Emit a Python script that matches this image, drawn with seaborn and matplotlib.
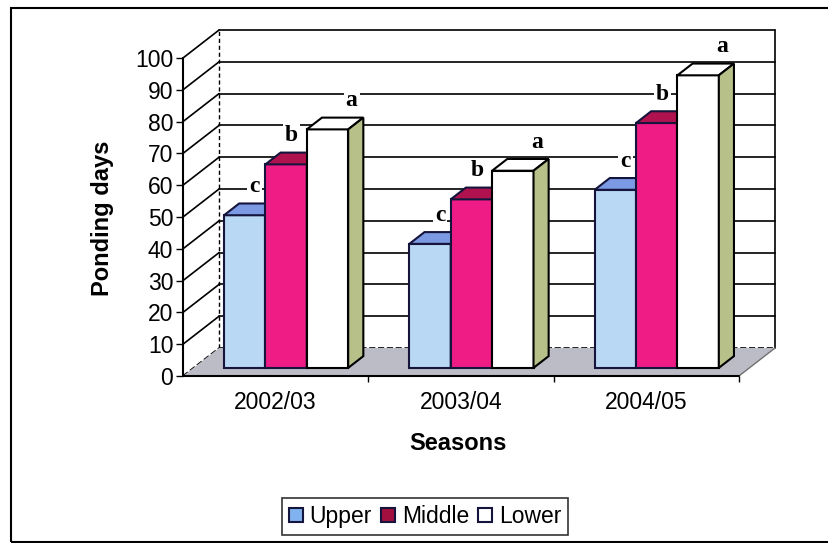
import matplotlib
matplotlib.use("Agg")
import matplotlib.pyplot as plt
from matplotlib.patches import Polygon, Rectangle, Patch
import pandas as pd
import seaborn as sns

# ---- data -------------------------------------------------------------
seasons = ["2002/03", "2003/04", "2004/05"]
zones = ["Upper", "Middle", "Lower"]
upper = [48, 39, 56]
middle = [64, 53, 77]
lower = [75, 62, 92]
letters_upper = ["c", "c", "c"]
letters_middle = ["b", "b", "b"]
letters_lower = ["a", "a", "a"]
y_ticks = list(range(0, 101, 10))

df = pd.DataFrame({
    "Season": seasons * 3,
    "Zone": [z for z in zones for _ in seasons],
    "Days": upper + middle + lower,
})
letters = {"Upper": letters_upper, "Middle": letters_middle, "Lower": letters_lower}

# ---- styling ----------------------------------------------------------
front = {"Upper": "#b9d8f4", "Middle": "#ee1c84", "Lower": "#ffffff"}
top_col = {"Upper": "#7c9ae4", "Middle": "#b0124f", "Lower": "#ffffff"}
side_col = {"Upper": "#6c8ad0", "Middle": "#a01048", "Lower": "#b8c08a"}
edge_col = {"Upper": "#14143c", "Middle": "#14143c", "Lower": "#000000"}
legend_col = {"Upper": "#7fb2ee", "Middle": "#a3103f", "Lower": "#ffffff"}
label_dx = {"Upper": 0.054, "Middle": 0.03, "Lower": 0.13}

sns.set_theme(style="white")
plt.rcParams["font.family"] = ["Liberation Sans", "DejaVu Sans"]
plt.rcParams.update({"text.color": "black", "axes.labelcolor": "black",
                     "xtick.color": "black", "ytick.color": "black"})

fig = plt.figure(figsize=(8.29, 5.43), dpi=100)
ax = fig.add_axes([183 / 829, 167 / 543, 592 / 829, 346 / 543])

# oblique depth of the whole box, in data units
DX, DY = 0.1946, 8.8
# bars sit part way into the box
BOX, BOY = 0.29 * DX, 0.29 * DY
# depth of a single bar
BDX, BDY = 0.42 * DX, 0.42 * DY

sns.barplot(data=df, x="Season", y="Days", hue="Zone", order=seasons,
            hue_order=zones, palette=front, width=0.67, saturation=1,
            errorbar=None, legend=False, linewidth=1.5, ax=ax)

XL, XR = -0.5, 2.5
ax.set_xlim(XL, XR + DX)
ax.set_ylim(0, 100 + DY)
for s in ax.spines.values():
    s.set_visible(False)

# back wall, side wall and floor
floor = Polygon([(XL, 0), (XR, 0), (XR + DX, DY), (XL + DX, DY)],
                closed=True, facecolor="#bcbcc6", edgecolor="none", zorder=1)
ax.add_patch(floor)
for v in y_ticks:
    ls = "--" if v == 0 else "-"
    ax.plot([XL + DX, XR + DX], [v + DY, v + DY], color="black", lw=1.2,
            ls=ls, zorder=0.8, clip_on=False)
    ax.plot([XL, XL + DX], [v, v + DY], color="black", lw=1.2, ls=ls,
            zorder=0.8, clip_on=False)
ax.plot([XL + DX, XL + DX], [DY, 100 + DY], color="black", lw=1, ls=(0, (3, 2)),
        zorder=0.8, clip_on=False)
ax.plot([XR + DX, XR + DX], [DY, 100 + DY], color="black", lw=1.2,
        zorder=0.8, clip_on=False)
ax.plot([XR, XR + DX], [0, DY], color="#707070", lw=1, zorder=1.1, clip_on=False)
# front axes lines
ax.plot([XL, XL], [0, 100], color="black", lw=1.5, zorder=7, clip_on=False)
ax.plot([XL, XR], [0, 0], color="black", lw=1.5, zorder=7, clip_on=False)

# turn the flat bars into prisms
for z_i, (zone, cont) in enumerate(zip(zones, ax.containers)):
    zo = 3 + z_i
    for i, bar in enumerate(cont):
        x0, w, h = bar.get_x(), bar.get_width(), bar.get_height()
        bar.set_x(x0 + BOX)
        bar.set_y(BOY)
        bar.set_zorder(zo)
        bar.set_edgecolor(edge_col[zone])
        fx, fy = x0 + BOX, BOY
        ax.add_patch(Polygon([(fx, fy + h), (fx + w, fy + h),
                              (fx + w + BDX, fy + h + BDY), (fx + BDX, fy + h + BDY)],
                             closed=True, facecolor=top_col[zone],
                             edgecolor=edge_col[zone], lw=1.5, zorder=zo))
        ax.add_patch(Polygon([(fx + w, fy), (fx + w + BDX, fy + BDY),
                              (fx + w + BDX, fy + h + BDY), (fx + w, fy + h)],
                             closed=True, facecolor=side_col[zone],
                             edgecolor=edge_col[zone], lw=1.5, zorder=zo))
        ax.text(fx + w / 2 + label_dx[zone], fy + h + 9, letters[zone][i],
                family=["Liberation Serif", "DejaVu Serif"], weight="bold",
                fontsize=17, ha="center", va="center", zorder=2.5,
                bbox=dict(facecolor="white", edgecolor="none", pad=1.5))

# ticks and labels
ax.set_yticks(y_ticks)
ax.set_yticklabels([str(v) for v in y_ticks], fontsize=16.5)
ax.tick_params(axis="y", direction="out", length=5, width=1, color="black",
               left=True, pad=2)
ax.set_xticks(range(len(seasons)))
ax.set_xticklabels(seasons, fontsize=16.5)
ax.tick_params(axis="x", length=0, pad=11)
ax.set_xticks([0.5, 1.5, 2.5], minor=True)
ax.tick_params(axis="x", which="minor", direction="out", length=4, width=1,
               color="black", bottom=True)
ax.grid(False)

ax.set_xlabel("Seasons", fontsize=17, weight="bold")
ax.xaxis.label.set_va("center")
ax.xaxis.set_label_coords((458 - 183) / 592, (376 - 443) / 346)
ax.set_ylabel("Ponding days", fontsize=17, weight="bold")
ax.yaxis.label.set_va("center")
ax.yaxis.set_label_coords((102 - 183) / 592, (376 - 218) / 346)

handles = [Patch(facecolor=legend_col[z], edgecolor="#14143c", lw=1.5) for z in zones]
leg = fig.legend(handles, zones, loc="center",
                 bbox_to_anchor=(425 / 829, 1 - 516.5 / 543), ncol=3,
                 frameon=True, fancybox=False, edgecolor="black", fontsize=16.5,
                 handlelength=0.6, handleheight=0.6, handletextpad=0.3,
                 columnspacing=0.4, borderpad=0.3)
leg.get_frame().set_linewidth(1.2)

# outer chart frame
fig.add_artist(Rectangle((11 / 829, 1 / 543), 1.05, 1 - 9 / 543,
                         transform=fig.transFigure, fill=False,
                         lw=1.5, ec="black"))

fig.savefig("out.png", dpi=100)
